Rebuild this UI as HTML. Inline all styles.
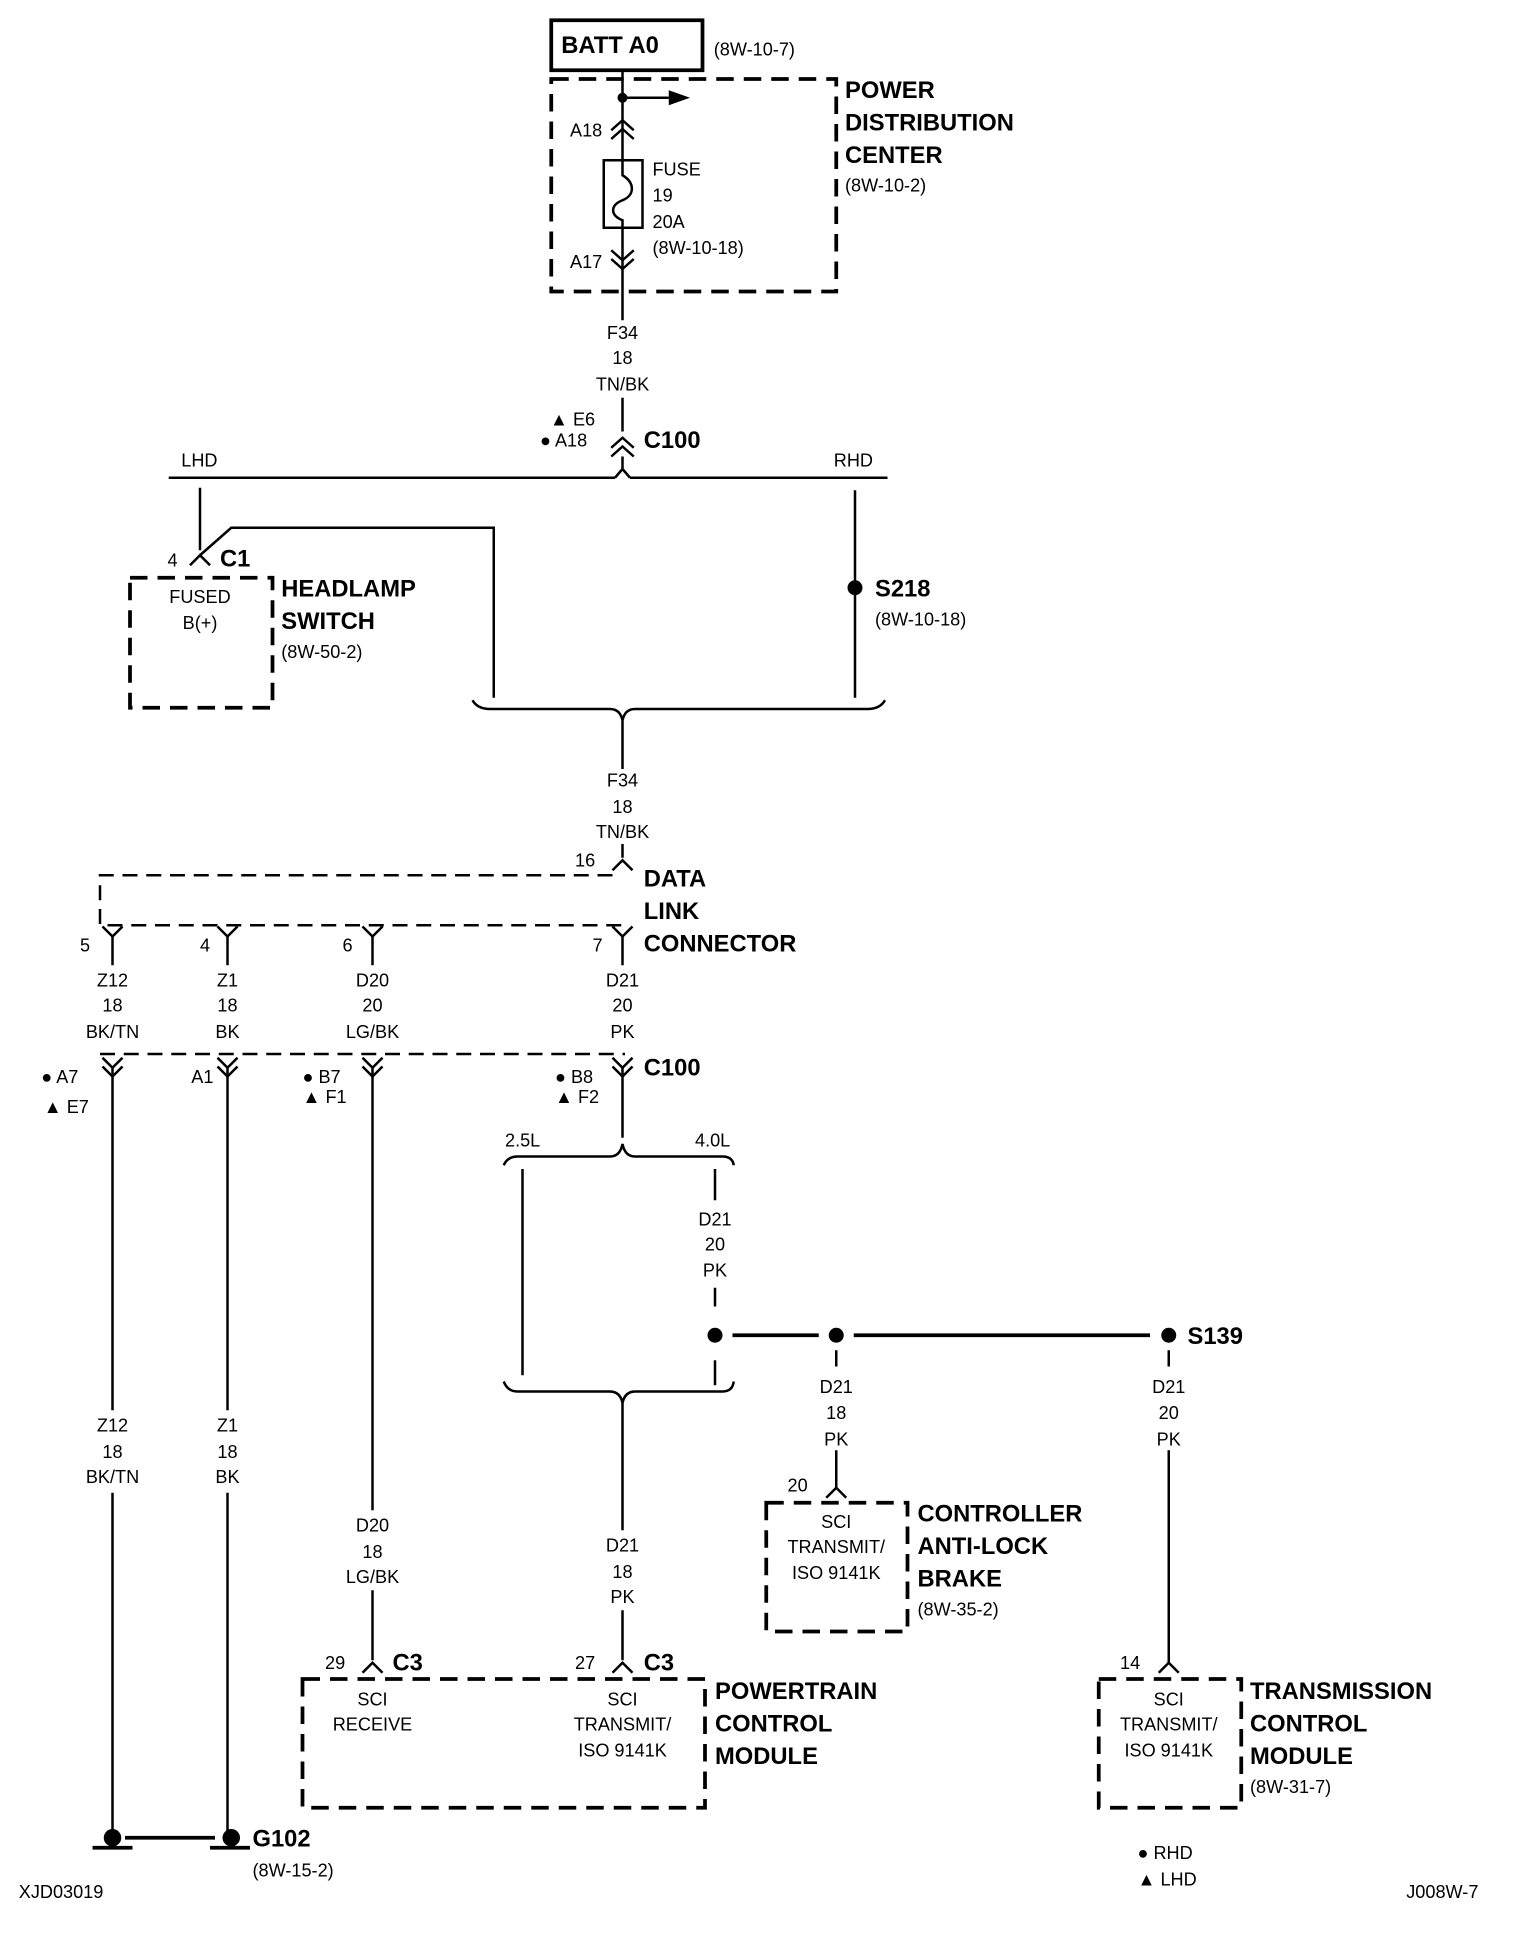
<!DOCTYPE html>
<html><head><meta charset="utf-8"><style>
html,body{margin:0;padding:0;background:#fff}
svg{display:block}
text{font-family:"Liberation Sans",sans-serif;font-size:14.5px;fill:#000}
.b{font-weight:bold;font-size:19px}
.m{text-anchor:middle}
</style></head><body>
<svg width="1520" height="1948" viewBox="0 0 1216 1558" xmlns="http://www.w3.org/2000/svg">
<g fill="none" stroke="#000" stroke-width="2">
<rect x="441" y="16" width="121" height="40" stroke-width="3"/>
<rect x="441" y="63" width="228" height="170" stroke-width="3" stroke-dasharray="14,8"/>
<line x1="498" y1="56" x2="498" y2="128"/>
<line x1="498" y1="78" x2="535" y2="78"/>
<line x1="498" y1="182" x2="498" y2="256"/>
<line x1="498" y1="318" x2="498" y2="345"/>
<path d="M489,104 L498,96 L507,104 M489,111 L498,103 L507,111"/>
<rect x="483" y="128" width="31" height="54"/>
<path d="M498,128 L498,140 C508,146 508,156 498,160 C488,164 488,172 498,176 L498,182"/>
<path d="M489,200 L498,208 L507,200 M489,207 L498,215 L507,207"/>
<path d="M489,358 L498,350 L507,358 M489,365 L498,357 L507,365"/>
<path d="M498,365 L498,375 L492,382 M498,375 L504,382"/>
<path d="M135,382 L492,382 M504,382 L710,382"/>
<line x1="160" y1="390" x2="160" y2="440"/>
<path d="M152,452 L160,444 L168,452"/>
<path d="M160,444 L185,422 L395,422 L395,558"/>
<rect x="104" y="462" width="114" height="104" stroke-width="3" stroke-dasharray="14,8"/>
<line x1="684" y1="392" x2="684" y2="558"/>
<path d="M378,560 Q382,567 392,567 L488,567 Q496,567 498,576 Q500,567 508,567 L694,567 Q704,567 708,560"/>
<line x1="498" y1="576" x2="498" y2="615"/>
<line x1="498" y1="675" x2="498" y2="686"/>
<path d="M490,696 L498,688 L506,696"/>
<g stroke-dasharray="12,7">
<path d="M490,700 L80,700 L80,740 L500,740"/>
<path d="M80,843 L500,843"/>
</g>
<path d="M82,741 L90,749 L98,741 M174,741 L182,749 L190,741 M290,741 L298,749 L306,741 M490,741 L498,749 L506,741"/>
<path d="M90,749 L90,772 M182,749 L182,772 M298,749 L298,772 M498,749 L498,772"/>
<path d="M82,846 L90,854 L98,846 M82,853 L90,861 L98,853 M174,846 L182,854 L190,846 M174,853 L182,861 L190,853 M290,846 L298,854 L306,846 M290,853 L298,861 L306,853 M490,846 L498,854 L506,846 M490,853 L498,861 L506,853"/>
<path d="M90,854 L90,1128 M90,1194 L90,1465 M182,854 L182,1128 M182,1194 L182,1465 M298,854 L298,1208 M298,1272 L298,1328 M498,854 L498,910"/>
<path d="M403,932 Q406,925 414,925 L488,925 Q496,925 498,915 Q500,925 508,925 L578,925 Q586,925 587,932"/>
<line x1="418" y1="935" x2="418" y2="1100"/>
<line x1="572" y1="935" x2="572" y2="960"/>
<line x1="572" y1="1030" x2="572" y2="1045"/>
<line x1="572" y1="1088" x2="572" y2="1108"/>
<path d="M403,1105 Q406,1113 414,1113 L488,1113 Q496,1113 498,1122 Q500,1113 508,1113 L578,1113 Q586,1113 587,1105"/>
<path d="M498,1122 L498,1224 M498,1288 L498,1328"/>
<line x1="586" y1="1068" x2="655" y2="1068" stroke-width="3"/>
<line x1="683" y1="1068" x2="920" y2="1068" stroke-width="3"/>
<line x1="669" y1="1080" x2="669" y2="1093"/>
<line x1="669" y1="1160" x2="669" y2="1190"/>
<path d="M661,1198 L669,1190 L677,1198"/>
<rect x="613" y="1202" width="113" height="103" stroke-width="3" stroke-dasharray="14,8"/>
<line x1="935" y1="1080" x2="935" y2="1093"/>
<line x1="935" y1="1160" x2="935" y2="1330"/>
<path d="M927,1338 L935,1330 L943,1338"/>
<rect x="879" y="1343" width="114" height="103" stroke-width="3" stroke-dasharray="14,8"/>
<path d="M290,1338 L298,1330 L306,1338 M490,1338 L498,1330 L506,1338"/>
<rect x="242" y="1343" width="322" height="103" stroke-width="3" stroke-dasharray="14,8"/>
<line x1="100" y1="1470" x2="172" y2="1470" stroke-width="3"/>
<line x1="74" y1="1478" x2="106" y2="1478" stroke-width="3"/>
<line x1="168" y1="1478" x2="200" y2="1478" stroke-width="3"/>
</g>
<g fill="#000">
<circle cx="498" cy="78" r="4"/>
<path d="M535,72 L552,78 L535,84 Z"/>
<circle cx="684" cy="470" r="6"/>
<circle cx="572" cy="1068" r="6"/>
<circle cx="669" cy="1068" r="6"/>
<circle cx="935" cy="1068" r="6"/>
<circle cx="90" cy="1470" r="7"/>
<circle cx="185" cy="1470" r="7"/>
</g>
<text x="449" y="42" class="b">BATT A0</text>
<text x="571" y="44">(8W-10-7)</text>
<text x="676" y="78" class="b">POWER</text>
<text x="676" y="104" class="b">DISTRIBUTION</text>
<text x="676" y="130" class="b">CENTER</text>
<text x="676" y="153">(8W-10-2)</text>
<text x="456" y="109">A18</text>
<text x="522" y="140">FUSE</text>
<text x="522" y="161">19</text>
<text x="522" y="182">20A</text>
<text x="522" y="203">(8W-10-18)</text>
<text x="456" y="214">A17</text>
<text x="498" y="271" class="m">F34</text>
<text x="498" y="291" class="m">18</text>
<text x="498" y="312" class="m">TN/BK</text>
<text x="440" y="340">▲ E6</text>
<text x="432" y="357">● A18</text>
<text x="515" y="358" class="b">C100</text>
<text x="145" y="373">LHD</text>
<text x="667" y="373">RHD</text>
<text x="134" y="453">4</text>
<text x="176" y="453" class="b">C1</text>
<text x="160" y="482" class="m">FUSED</text>
<text x="160" y="503" class="m">B(+)</text>
<text x="225" y="477" class="b">HEADLAMP</text>
<text x="225" y="503" class="b">SWITCH</text>
<text x="225" y="526">(8W-50-2)</text>
<text x="700" y="477" class="b">S218</text>
<text x="700" y="500">(8W-10-18)</text>
<text x="498" y="629" class="m">F34</text>
<text x="498" y="650" class="m">18</text>
<text x="498" y="670" class="m">TN/BK</text>
<text x="460" y="693">16</text>
<text x="515" y="709" class="b">DATA</text>
<text x="515" y="735" class="b">LINK</text>
<text x="515" y="761" class="b">CONNECTOR</text>
<text x="64" y="761">5</text><text x="160" y="761">4</text><text x="274" y="761">6</text><text x="474" y="761">7</text>
<text x="90" y="789" class="m">Z12</text><text x="90" y="809" class="m">18</text><text x="90" y="830" class="m">BK/TN</text>
<text x="182" y="789" class="m">Z1</text><text x="182" y="809" class="m">18</text><text x="182" y="830" class="m">BK</text>
<text x="298" y="789" class="m">D20</text><text x="298" y="809" class="m">20</text><text x="298" y="830" class="m">LG/BK</text>
<text x="498" y="789" class="m">D21</text><text x="498" y="809" class="m">20</text><text x="498" y="830" class="m">PK</text>
<text x="33" y="866">● A7</text><text x="35" y="890">▲ E7</text>
<text x="153" y="866">A1</text>
<text x="242" y="866">● B7</text><text x="242" y="882">▲ F1</text>
<text x="444" y="866">● B8</text><text x="444" y="882">▲ F2</text>
<text x="515" y="860" class="b">C100</text>
<text x="404" y="917">2.5L</text><text x="556" y="917">4.0L</text>
<text x="572" y="980" class="m">D21</text><text x="572" y="1000" class="m">20</text><text x="572" y="1021" class="m">PK</text>
<text x="950" y="1075" class="b">S139</text>
<text x="669" y="1114" class="m">D21</text><text x="669" y="1135" class="m">18</text><text x="669" y="1156" class="m">PK</text>
<text x="935" y="1114" class="m">D21</text><text x="935" y="1135" class="m">20</text><text x="935" y="1156" class="m">PK</text>
<text x="90" y="1145" class="m">Z12</text><text x="90" y="1166" class="m">18</text><text x="90" y="1186" class="m">BK/TN</text>
<text x="182" y="1145" class="m">Z1</text><text x="182" y="1166" class="m">18</text><text x="182" y="1186" class="m">BK</text>
<text x="630" y="1193">20</text>
<text x="669" y="1222" class="m">SCI</text><text x="669" y="1242" class="m">TRANSMIT/</text><text x="669" y="1263" class="m">ISO 9141K</text>
<text x="734" y="1217" class="b">CONTROLLER</text>
<text x="734" y="1243" class="b">ANTI-LOCK</text>
<text x="734" y="1269" class="b">BRAKE</text>
<text x="734" y="1292">(8W-35-2)</text>
<text x="298" y="1225" class="m">D20</text><text x="298" y="1246" class="m">18</text><text x="298" y="1266" class="m">LG/BK</text>
<text x="498" y="1241" class="m">D21</text><text x="498" y="1262" class="m">18</text><text x="498" y="1282" class="m">PK</text>
<text x="260" y="1335">29</text><text x="314" y="1336" class="b">C3</text>
<text x="460" y="1335">27</text><text x="515" y="1336" class="b">C3</text>
<text x="298" y="1364" class="m">SCI</text><text x="298" y="1384" class="m">RECEIVE</text>
<text x="498" y="1364" class="m">SCI</text><text x="498" y="1384" class="m">TRANSMIT/</text><text x="498" y="1405" class="m">ISO 9141K</text>
<text x="572" y="1359" class="b">POWERTRAIN</text>
<text x="572" y="1385" class="b">CONTROL</text>
<text x="572" y="1411" class="b">MODULE</text>
<text x="896" y="1335">14</text>
<text x="935" y="1364" class="m">SCI</text><text x="935" y="1384" class="m">TRANSMIT/</text><text x="935" y="1405" class="m">ISO 9141K</text>
<text x="1000" y="1359" class="b">TRANSMISSION</text>
<text x="1000" y="1385" class="b">CONTROL</text>
<text x="1000" y="1411" class="b">MODULE</text>
<text x="1000" y="1434">(8W-31-7)</text>
<text x="202" y="1477" class="b">G102</text>
<text x="202" y="1501">(8W-15-2)</text>
<text x="910" y="1487">● RHD</text>
<text x="910" y="1508">▲ LHD</text>
<text x="15" y="1518">XJD03019</text>
<text x="1125" y="1518">J008W-7</text>
</svg>
</body></html>
